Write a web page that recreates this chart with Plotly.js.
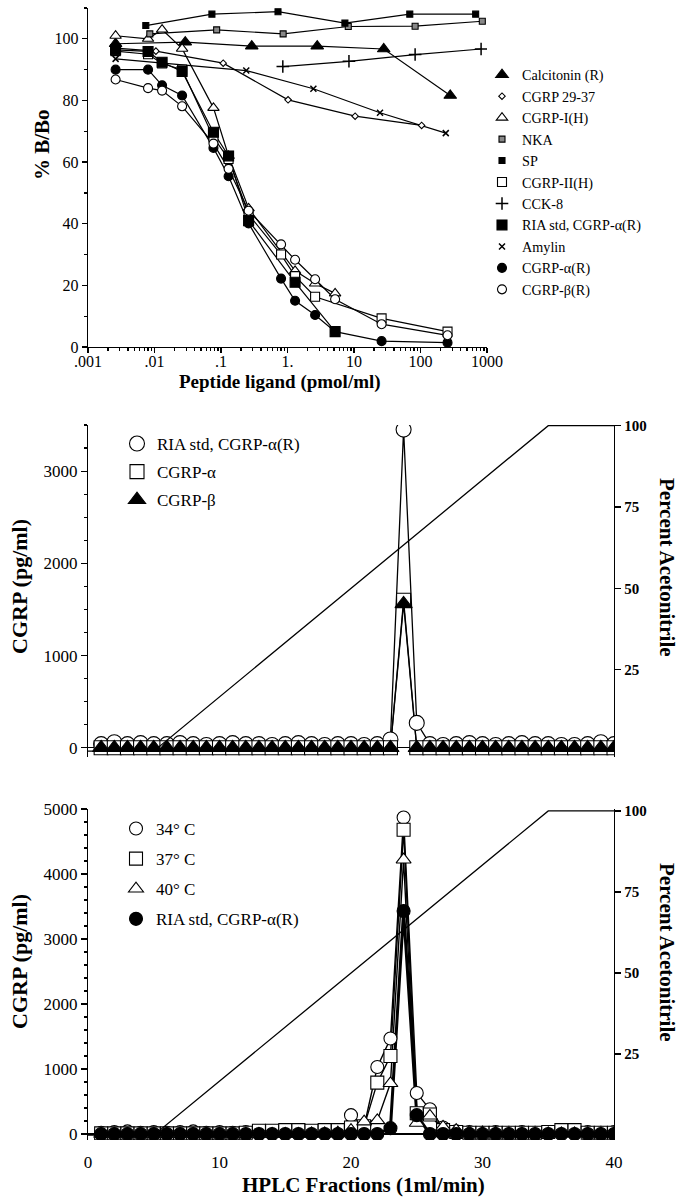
<!DOCTYPE html>
<html><head><meta charset="utf-8">
<script src="https://cdn.plot.ly/plotly-3.0.1.min.js"></script>
<style>html,body{margin:0;padding:0;background:#fff}#chart{width:682px;height:1199px}</style>
</head><body><div id="chart"></div>
<script>
// ---------- Panel A: displacement curves (x = pmol/ml, y = %B/Bo) ----------
const calcX  = [0.0026, 0.029, 0.29, 2.8, 28, 280];
const calcY  = [98.4, 98.9, 97.6, 97.6, 96.7, 81.6];
const c2937X = [0.0026, 0.0105, 0.108, 1.02, 10.4, 104];
const c2937Y = [97, 96.0, 92.1, 80.2, 74.9, 71.9];
const cgrp1X = [0.0026, 0.008, 0.013, 0.026, 0.077, 0.13, 0.26, 1.3, 2.6, 5.2];
const cgrp1Y = [101, 100, 103, 96.8, 77.6, 62, 45, 24.7, 20.6, 17.4];
const nkaX   = [0.0085, 0.086, 0.86, 8.2, 83, 850];
const nkaY   = [101.6, 102.9, 101.6, 104.0, 104.1, 105.7];
const spX    = [0.0074, 0.073, 0.72, 7.3, 69, 675];
const spY    = [104.3, 108.0, 108.8, 105.1, 108.0, 108.0];
const cgrp2X = [0.0026, 0.008, 0.013, 0.026, 0.077, 0.13, 0.26, 0.8, 1.3, 2.6, 26, 255];
const cgrp2Y = [96, 95, 92, 90, 68, 61, 43, 30, 23, 16.3, 9.3, 5.0];
const cckX   = [0.85, 8.4, 83, 815];
const cckY   = [91.0, 92.7, 94.9, 96.7];
const riaX   = [0.0026, 0.008, 0.013, 0.026, 0.077, 0.13, 0.26, 1.3, 5.2];
const riaY   = [96.4, 95.9, 92.4, 89.4, 69.7, 62.0, 41, 21.0, 5.0];
const amyX   = [0.0026, 0.24, 2.45, 24.6, 240];
const amyY   = [93.5, 89.7, 83.8, 76.0, 69.4];
const alphaX = [0.0026, 0.008, 0.013, 0.026, 0.077, 0.13, 0.26, 0.8, 1.3, 2.6, 5.2, 26, 255];
const alphaY = [90, 90, 84.9, 81.6, 64.6, 55.4, 40.1, 22.2, 15.0, 10.4, 5.0, 1.9, 1.4];
const betaX  = [0.0026, 0.008, 0.013, 0.026, 0.077, 0.13, 0.26, 0.8, 1.3, 2.6, 5.2, 26, 255];
const betaY  = [86.8, 84.0, 83.2, 78.1, 66, 57.8, 44.2, 33.3, 28.3, 22.0, 15.5, 7.4, 3.8];
const xTickVals = [0.001, 0.01, 0.1, 1, 10, 100, 1000];
const xTickText = ['.001', '.01', '.1', '1.', '10', '100', '1000'];

// ---------- HPLC fractions ----------
const fractions = [1,2,3,4,5,6,7,8,9,10,11,12,13,14,15,16,17,18,19,20,21,22,23,24,25,26,27,28,29,30,31,32,33,34,35,36,37,38,39,40];
const gradX   = [0, 5, 35, 40];
const gradPct = [0, 0, 100, 100];

// Panel B
const bRIA   = [40,60,40,50,40,40,50,40,30,40, 50,40,40,30,40,50,40,30,40,40, 30,40,90,3450,270,40,30,40,50,40, 30,40,50,40,40,30,30,40,60,40];
const bAlpha = [0,0,0,0,0,0,0,0,0,0, 0,0,0,0,0,0,0,0,0,0, 0,0,0,1600,0,0,0,0,0,0, 0,0,0,0,0,0,0,0,0,0];
const bBeta  = [0,0,0,0,0,0,0,0,0,0, 0,0,0,0,0,0,0,0,0,0, 0,0,0,1560,0,0,0,0,0,0, 0,0,0,0,0,0,0,0,0,0];

// Panel C
const c34  = [20,30,40,20,30,20,30,40,20,30, 20,30,20,30,40,30,20,30,40,290, 120,1030,1470,4870,630,380,100,40,30,20, 30,20,30,20,30,30,20,30,20,30];
const c37  = [10,10,10,10,10,10,10,10,10,10, 10,20,50,50,60,60,50,60,60,100, 120,790,1200,4680,320,300,60,30,20,20, 20,20,20,20,30,60,60,20,20,20];
const c40  = [0,0,0,0,0,0,0,0,0,0, 0,0,0,0,0,0,10,10,20,60, 190,210,780,4220,170,280,110,60,30,20, 20,10,10,10,10,10,10,10,10,10];
const cRIA = [0,0,0,0,0,0,0,0,0,0, 0,0,0,0,0,0,0,0,0,0, 0,0,90,3430,290,0,0,0,0,0, 0,0,0,0,0,0,0,0,0,0];

// ---------- styling ----------
const SERIF = 'Liberation Serif, Times New Roman, serif';
const px = v => v / 682, py = v => 1 - v / 1199;

const topSeries = [
  {name:'Calcitonin (R)',      x:calcX,  y:calcY,  sym:'triangle-up', size:11, fill:'black'},
  {name:'CGRP 29-37',          x:c2937X, y:c2937Y, sym:'diamond',     size:5,  fill:'white'},
  {name:'CGRP-I(H)',           x:cgrp1X, y:cgrp1Y, sym:'triangle-up', size:10, fill:'white'},
  {name:'NKA',                 x:nkaX,   y:nkaY,   sym:'square',      size:6,  fill:'#888'},
  {name:'SP',                  x:spX,    y:spY,    sym:'square',      size:6,  fill:'black'},
  {name:'CGRP-II(H)',          x:cgrp2X, y:cgrp2Y, sym:'square',      size:9,  fill:'white'},
  {name:'CCK-8',               x:cckX,   y:cckY,   sym:'cross-thin',  size:9,  fill:'black'},
  {name:'RIA std, CGRP-α(R)',  x:riaX,   y:riaY,   sym:'square',      size:10, fill:'black'},
  {name:'Amylin',              x:amyX,   y:amyY,   sym:'x-thin',      size:6,  fill:'black'},
  {name:'CGRP-α(R)',           x:alphaX, y:alphaY, sym:'circle',      size:9,  fill:'black'},
  {name:'CGRP-β(R)',           x:betaX,  y:betaY,  sym:'circle',      size:9,  fill:'white'}
];
const midSeries = [
  {name:'RIA std, CGRP-α(R)', y:bRIA,   sym:'circle',      size:15, fill:'white', lw:1.3},
  {name:'CGRP-α',             y:bAlpha, sym:'square',      size:14, fill:'white', lw:1.3},
  {name:'CGRP-β',             y:bBeta,  sym:'triangle-up', size:15, fill:'black', lw:1.3}
];
const botSeries = [
  {name:'34° C',               y:c34,  sym:'circle',      size:13, fill:'white', lw:1.4},
  {name:'37° C',               y:c37,  sym:'square',      size:13, fill:'white', lw:1.4},
  {name:'40° C',               y:c40,  sym:'triangle-up', size:13, fill:'white', lw:1.4},
  {name:'RIA std, CGRP-α(R)',  y:cRIA, sym:'circle',      size:13, fill:'black', lw:3}
];

const traces = [];
function lineTrace(x, y, xa, ya, w) {
  return {x, y, xaxis:xa, yaxis:ya, type:'scatter', mode:'lines', showlegend:false, hoverinfo:'skip',
          line:{color:'black', width:w}};
}
function markTrace(s, x, xa, ya, leg, i) {
  const thin = s.sym.indexOf('thin') >= 0;
  return {x, y:s.y, xaxis:xa, yaxis:ya, type:'scatter', mode:'markers', name:s.name,
          legend:leg, legendgroup:leg + '_' + i, showlegend:true,
          marker:{symbol:s.sym, size:s.size, color:s.fill,
                  line:{color:'black', width: thin ? 1.5 : 1.1}}};
}
// gradient lines
traces.push(lineTrace(gradX, gradPct, 'x2', 'y3', 1.3));
traces.push(lineTrace(gradX, gradPct, 'x3', 'y5', 1.3));
// lines first
topSeries.forEach(s => traces.push(lineTrace(s.x, s.y, 'x', 'y', 1.2)));
midSeries.forEach(s => traces.push(lineTrace(fractions, s.y, 'x2', 'y2', s.lw)));
botSeries.forEach(s => traces.push(lineTrace(fractions, s.y, 'x3', 'y4', s.lw)));
// markers
topSeries.forEach((s, i) => traces.push(markTrace(s, s.x, 'x', 'y', 'legend', i)));
midSeries.forEach((s, i) => traces.push(markTrace(s, fractions, 'x2', 'y2', 'legend2', i)));
botSeries.forEach((s, i) => traces.push(markTrace(s, fractions, 'x3', 'y4', 'legend3', i)));

const logMinor = [];
for (let e = -3; e < 3; e++) for (let k = 2; k < 10; k++) logMinor.push(k * Math.pow(10, e));

const baseAxis = {showline:true, linecolor:'black', linewidth:1.2, ticks:'outside', tickcolor:'black',
                  tickwidth:1.2, ticklen:6, showgrid:false, zeroline:false,
                  tickfont:{family:SERIF, size:17, color:'black'}};
const rightAxis = Object.assign({}, baseAxis, {side:'right', tickvals:[25,50,75,100],
                  tickfont:{family:SERIF, size:15, color:'black', weight:'bold'}});
const dom2x = [px(88), px(614)];

const layout = {
  width:682, height:1199, margin:{l:0, r:0, t:0, b:0},
  paper_bgcolor:'white', plot_bgcolor:'rgba(0,0,0,0)', font:{family:SERIF, color:'black'},
  xaxis: Object.assign({}, baseAxis, {domain:[px(88), px(487)], anchor:'y', type:'log', range:[-3, 3],
          tickmode:'array', tickvals:xTickVals, ticktext:xTickText, ticklen:5, ticklabelstandoff:-5,
          tickfont:{family:SERIF, size:16, color:'black'},
          minor:{tickmode:'array', tickvals:logMinor, ticks:'outside', ticklen:3, tickcolor:'black', showgrid:false}}),
  yaxis: Object.assign({}, baseAxis, {domain:[py(347), py(8)], anchor:'x', range:[0, 110], tick0:0, dtick:20, ticklen:5,
          tickfont:{family:SERIF, size:16, color:'black'},
          minor:{tick0:0, dtick:10, ticks:'outside', ticklen:3, tickcolor:'black', showgrid:false}}),
  xaxis2: {domain:dom2x, anchor:'y2', range:[0, 40], visible:false},
  yaxis2: Object.assign({}, baseAxis, {domain:[py(757), py(425)], anchor:'x2', range:[-100, 3500], tick0:0, dtick:1000,
          zeroline:true, zerolinecolor:'black', zerolinewidth:1.2,
          minor:{tick0:0, dtick:250, ticks:'outside', ticklen:3, tickcolor:'black', showgrid:false}}),
  yaxis3: Object.assign({}, rightAxis, {overlaying:'y2', anchor:'x2', range:[-1.8, 100.2]}),
  xaxis3: Object.assign({}, baseAxis, {domain:dom2x, anchor:'y4', range:[0, 40], showline:false, tick0:0, dtick:10,
          tickcolor:'rgba(0,0,0,0)', ticklen:7}),
  yaxis4: Object.assign({}, baseAxis, {domain:[py(1140), py(809)], anchor:'x3', range:[-92, 5000], tick0:0, dtick:1000,
          zeroline:true, zerolinecolor:'black', zerolinewidth:1.2,
          minor:{tick0:0, dtick:200, ticks:'outside', ticklen:3, tickcolor:'black', showgrid:false}}),
  yaxis5: Object.assign({}, rightAxis, {overlaying:'y4', anchor:'x3', range:[-1.5, 100.6]}),
  legend:  {x:px(482), y:py(59), xanchor:'left', yanchor:'top', bgcolor:'rgba(0,0,0,0)', tracegroupgap:0,
            font:{family:SERIF, size:14.2, color:'black'}},
  legend2: {x:px(117), y:py(426), xanchor:'left', yanchor:'top', bgcolor:'rgba(0,0,0,0)', tracegroupgap:3,
            font:{family:SERIF, size:17, color:'black'}},
  legend3: {x:px(116), y:py(811), xanchor:'left', yanchor:'top', bgcolor:'rgba(0,0,0,0)', tracegroupgap:5,
            font:{family:SERIF, size:17, color:'black'}},
  annotations: [
    {text:'<b>% B/Bo</b>', x:px(42), y:py(145), textangle:-90, font:{size:21}},
    {text:'<b>Peptide ligand (pmol/ml)</b>', x:px(280), y:py(382), font:{size:19}},
    {text:'<b>CGRP (pg/ml)</b>', x:px(19), y:py(587), textangle:-90, font:{size:22}},
    {text:'<b>Percent Acetonitrile</b>', x:px(667), y:py(567), textangle:90, font:{size:21}},
    {text:'<b>CGRP (pg/ml)</b>', x:px(19), y:py(962), textangle:-90, font:{size:22}},
    {text:'<b>Percent Acetonitrile</b>', x:px(667), y:py(952), textangle:90, font:{size:21}},
    {text:'<b>HPLC Fractions (1ml/min)</b>', x:px(363), y:py(1185), font:{size:21}}
  ].map(a => Object.assign({xref:'paper', yref:'paper', showarrow:false, xanchor:'center', yanchor:'middle'}, a,
        {font:Object.assign({family:SERIF, color:'black'}, a.font)}))
};

Plotly.newPlot('chart', traces, layout, {staticPlot:true, displayModeBar:false});
</script></body></html>
